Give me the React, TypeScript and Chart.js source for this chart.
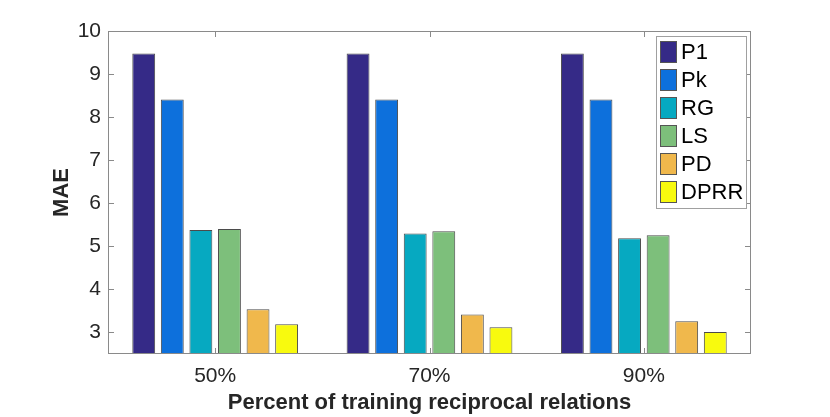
import { useEffect, useRef } from "react"
import { Chart, ChartConfiguration, Plugin, registerables } from "chart.js"

Chart.register(...registerables)

// data
const categories = ["50%", "70%", "90%"]
const seriesNames = ["P1", "Pk", "RG", "LS", "PD", "DPRR"]
const seriesColors = ["#352a87", "#0d70dc", "#06a9c1", "#7dbf7b", "#f0b84c", "#f8fa0e"]
const p1 = [9.48, 9.48, 9.48]
const pk = [8.41, 8.41, 8.41]
const rg = [5.38, 5.30, 5.19]
const ls = [5.40, 5.35, 5.26]
const pd = [3.54, 3.42, 3.26]
const dprr = [3.19, 3.12, 3.01]
const seriesValues = [p1, pk, rg, ls, pd, dprr]
const yTicks = [3, 4, 5, 6, 7, 8, 9, 10]

const FONT = "'Liberation Sans', Arial, Helvetica, sans-serif"
const TEXT = "#262626"
const AXIS = "#8a8a8a"

// matlab-ish box, inward ticks and the legend inside the axes
const matlabAxes: Plugin<"bar"> = {
  id: "matlabAxes",
  afterDraw(chart) {
    const { ctx, chartArea: a } = chart
    const x = chart.scales.x
    const y = chart.scales.y
    const tick = 6
    ctx.save()
    ctx.strokeStyle = AXIS
    ctx.lineWidth = 1
    ctx.strokeRect(a.left + 0.5, a.top + 0.5, a.right - a.left - 1, a.bottom - a.top - 1)
    ctx.beginPath()
    yTicks.forEach((v) => {
      const py = Math.round(y.getPixelForValue(v)) + 0.5
      ctx.moveTo(a.left, py)
      ctx.lineTo(a.left + tick, py)
      ctx.moveTo(a.right, py)
      ctx.lineTo(a.right - tick, py)
    })
    categories.forEach((_, i) => {
      const px = Math.round(x.getPixelForValue(i)) + 0.5
      ctx.moveTo(px, a.bottom)
      ctx.lineTo(px, a.bottom - tick)
      ctx.moveTo(px, a.top)
      ctx.lineTo(px, a.top + tick)
    })
    ctx.stroke()

    // legend
    const boxW = 90
    const rowH = 28
    const boxX = a.right - 95
    const boxY = a.top + 5
    const boxH = rowH * chart.data.datasets.length + 4
    ctx.fillStyle = "#ffffff"
    ctx.fillRect(boxX, boxY, boxW, boxH)
    ctx.strokeStyle = "#a0a0a0"
    ctx.strokeRect(boxX + 0.5, boxY + 0.5, boxW, boxH)
    ctx.font = `22px ${FONT}`
    ctx.textBaseline = "middle"
    ctx.textAlign = "left"
    chart.data.datasets.forEach((ds, i) => {
      const sy = boxY + 5 + i * rowH
      ctx.fillStyle = ds.backgroundColor as string
      ctx.fillRect(boxX + 4, sy, 17, 22)
      ctx.strokeStyle = "#555555"
      ctx.strokeRect(boxX + 4.5, sy + 0.5, 16, 21)
      ctx.fillStyle = "#000000"
      ctx.fillText(ds.label ?? "", boxX + 25, sy + 12)
    })
    ctx.restore()
  },
}

export default function App() {
  const chartRef = useRef<HTMLCanvasElement>(null)
  const chartInstanceRef = useRef<Chart | null>(null)

  useEffect(() => {
    document.body.style.margin = "0"
    if (!chartRef.current) return
    if (chartInstanceRef.current) chartInstanceRef.current.destroy()
    const ctx = chartRef.current.getContext("2d")
    if (!ctx) return

    const config: ChartConfiguration<"bar"> = {
      type: "bar",
      data: {
        labels: categories,
        datasets: seriesNames.map((name, i) => ({
          label: name,
          data: seriesValues[i],
          backgroundColor: seriesColors[i],
          borderColor: "rgba(30, 30, 30, 0.8)",
          borderWidth: 1,
          categoryPercentage: 0.8,
          barPercentage: 0.8,
        })),
      },
      options: {
        responsive: true,
        maintainAspectRatio: false,
        animation: false,
        layout: {
          padding: { left: 0, top: 31, right: 79, bottom: 0 },
        },
        plugins: {
          legend: { display: false },
          tooltip: { enabled: false },
        },
        scales: {
          x: {
            grid: { display: false, drawTicks: false },
            border: { display: false },
            ticks: {
              color: TEXT,
              font: { family: FONT, size: 21 },
              padding: 10,
              maxRotation: 0,
            },
            title: {
              display: true,
              text: "Percent of training reciprocal relations",
              color: TEXT,
              font: { family: FONT, size: 22, weight: "bold" },
              padding: { top: 0, bottom: 1 },
            },
            afterFit: (scale) => {
              scale.height = 63
            },
          },
          y: {
            min: 2.5,
            max: 10,
            grid: { display: false, drawTicks: false },
            border: { display: false },
            ticks: {
              color: TEXT,
              font: { family: FONT, size: 21 },
              padding: 7,
            },
            afterBuildTicks: (scale) => {
              scale.ticks = yTicks.map((v) => ({ value: v }))
            },
            title: {
              display: true,
              text: "MAE",
              color: TEXT,
              font: { family: FONT, size: 22, weight: "bold" },
              padding: { top: 49, bottom: 0 },
            },
            afterFit: (scale) => {
              scale.width = 108
            },
          },
        },
      },
      plugins: [matlabAxes],
    }

    chartInstanceRef.current = new Chart(ctx, config)

    return () => {
      if (chartInstanceRef.current) {
        chartInstanceRef.current.destroy()
        chartInstanceRef.current = null
      }
    }
  }, [])

  return (
    <div style={{ width: 830, height: 417, background: "#ffffff", position: "relative" }}>
      <canvas ref={chartRef} />
    </div>
  )
}
